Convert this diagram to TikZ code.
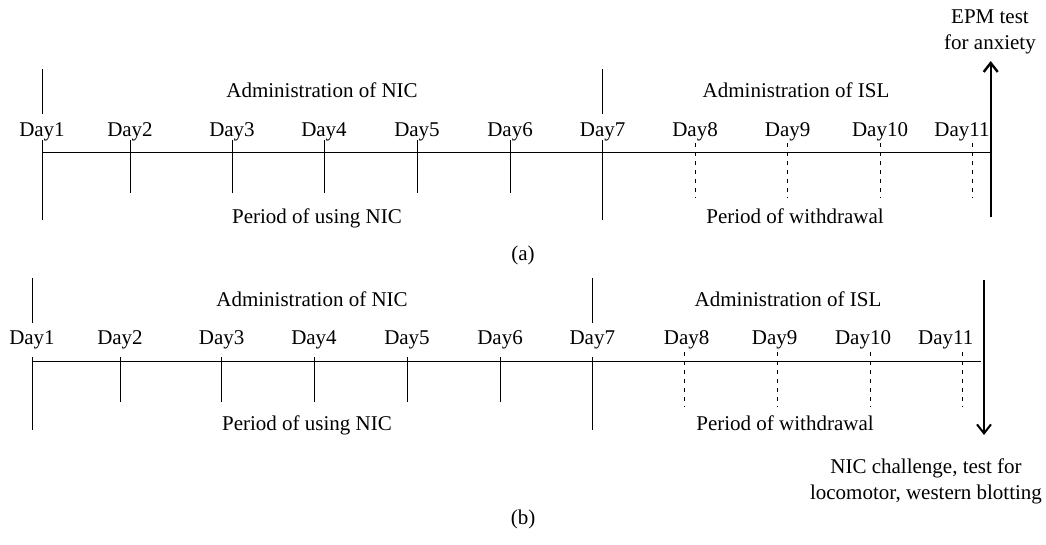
\documentclass[tikz,border=0pt]{standalone}
\usepackage{fontspec}
\setmainfont{Liberation Serif}
\usetikzlibrary{arrows.meta}
\begin{document}
\begin{tikzpicture}[x=1pt,y=-1pt,
  lbl/.style={font=\fontsize{21}{25}\selectfont, inner sep=0pt, anchor=base},
  axisline/.style={line width=1pt},
  solidtick/.style={line width=1pt},
  dashtick/.style={line width=1pt, dash pattern=on 4pt off 5pt},
  bigarrow/.style={line width=2.4pt, -{Straight Barb[length=9pt,width=14pt]}}]
\useasboundingbox (0,0) rectangle (1046,544);

% ---------------- panel (a) ----------------
\foreach \i/\x/\lx in {1/42/42,2/130/130,3/232/232,4/324/324,5/417/417,6/510/510,7/602.7/602.7,8/695/695,9/787.7/787.7,10/880/880,11/972.7/962}{
  \node[lbl] (aday\i) at (\lx,136) {Day\i};
  \coordinate (atop\i) at (\x,140);
}
\foreach \i/\x in {1/42,7/602.7}{
  \coordinate (aup\i) at (\x,69);
  \coordinate (aupe\i) at (\x,114);
  \coordinate (alow\i) at (\x,220);
  \draw[solidtick] (aup\i) -- (aupe\i);
  \draw[solidtick] (atop\i) -- (alow\i);
}
\foreach \i/\x in {2/130,3/232,4/324,5/417,6/510}{
  \coordinate (abot\i) at (\x,193);
  \draw[solidtick] (atop\i) -- (abot\i);
}
\foreach \i/\x in {8/695,9/787.7,10/880,11/972.7}{
  \coordinate (adt\i) at (\x,143);
  \coordinate (adb\i) at (\x,198);
  \draw[dashtick] (adt\i) -- (adb\i);
}
\coordinate (aaxs) at (42,152);
\coordinate (aaxe) at (990.7,152);
\draw[axisline] (aaxs) -- (aaxe);
\coordinate (aarrs) at (990.7,217);
\coordinate (aarre) at (990.7,61);
\draw[bigarrow] (aarrs) -- (aarre);

\node[lbl] (aadmnic) at (322,97) {Administration of NIC};
\node[lbl] (aadmisl) at (796,97) {Administration of ISL};
\node[lbl] (aperiod) at (317,223) {Period of using NIC};
\node[lbl] (awithd) at (795,223) {Period of withdrawal};
\node[lbl] (aepm1) at (990,23) {EPM test};
\node[lbl] (aepm2) at (990,49) {for anxiety};
\node[lbl] (alabel) at (523,260) {(a)};

% ---------------- panel (b) ----------------
\foreach \i/\x/\lx in {1/32/32,2/120/120,3/221.7/221.7,4/314/314,5/407/407,6/500/500,7/592.3/592.3,8/684.7/686.7,9/777/774.7,10/870/863,11/962.3/945.7}{
  \node[lbl] (bday\i) at (\lx,344) {Day\i};
  \coordinate (btop\i) at (\x,357);
}
\foreach \i/\x in {1/32,7/592.3}{
  \coordinate (bup\i) at (\x,278);
  \coordinate (bupe\i) at (\x,323);
  \coordinate (blow\i) at (\x,430);
  \draw[solidtick] (bup\i) -- (bupe\i);
  \draw[solidtick] (btop\i) -- (blow\i);
}
\foreach \i/\x in {2/120,3/221.7,4/314,5/407,6/500}{
  \coordinate (bbot\i) at (\x,402);
  \draw[solidtick] (btop\i) -- (bbot\i);
}
\foreach \i/\x in {8/684.7,9/777,10/870,11/962.3}{
  \coordinate (bdt\i) at (\x,352);
  \coordinate (bdb\i) at (\x,407);
  \draw[dashtick] (bdt\i) -- (bdb\i);
}
\coordinate (baxs) at (32,361);
\coordinate (baxe) at (980.7,361);
\draw[axisline] (baxs) -- (baxe);
\coordinate (barrs) at (984,280);
\coordinate (barre) at (984,435);
\draw[bigarrow, line width=2pt] (barrs) -- (barre);

\node[lbl] (badmnic) at (312,306) {Administration of NIC};
\node[lbl] (badmisl) at (788,306) {Administration of ISL};
\node[lbl] (bperiod) at (307,430) {Period of using NIC};
\node[lbl] (bwithd) at (785,430) {Period of withdrawal};
\node[lbl] (bnic1) at (926,473) {NIC challenge, test for};
\node[lbl] (bnic2) at (926,499) {locomotor, western blotting};
\node[lbl] (blabel) at (523,524) {(b)};
\end{tikzpicture}
\end{document}
